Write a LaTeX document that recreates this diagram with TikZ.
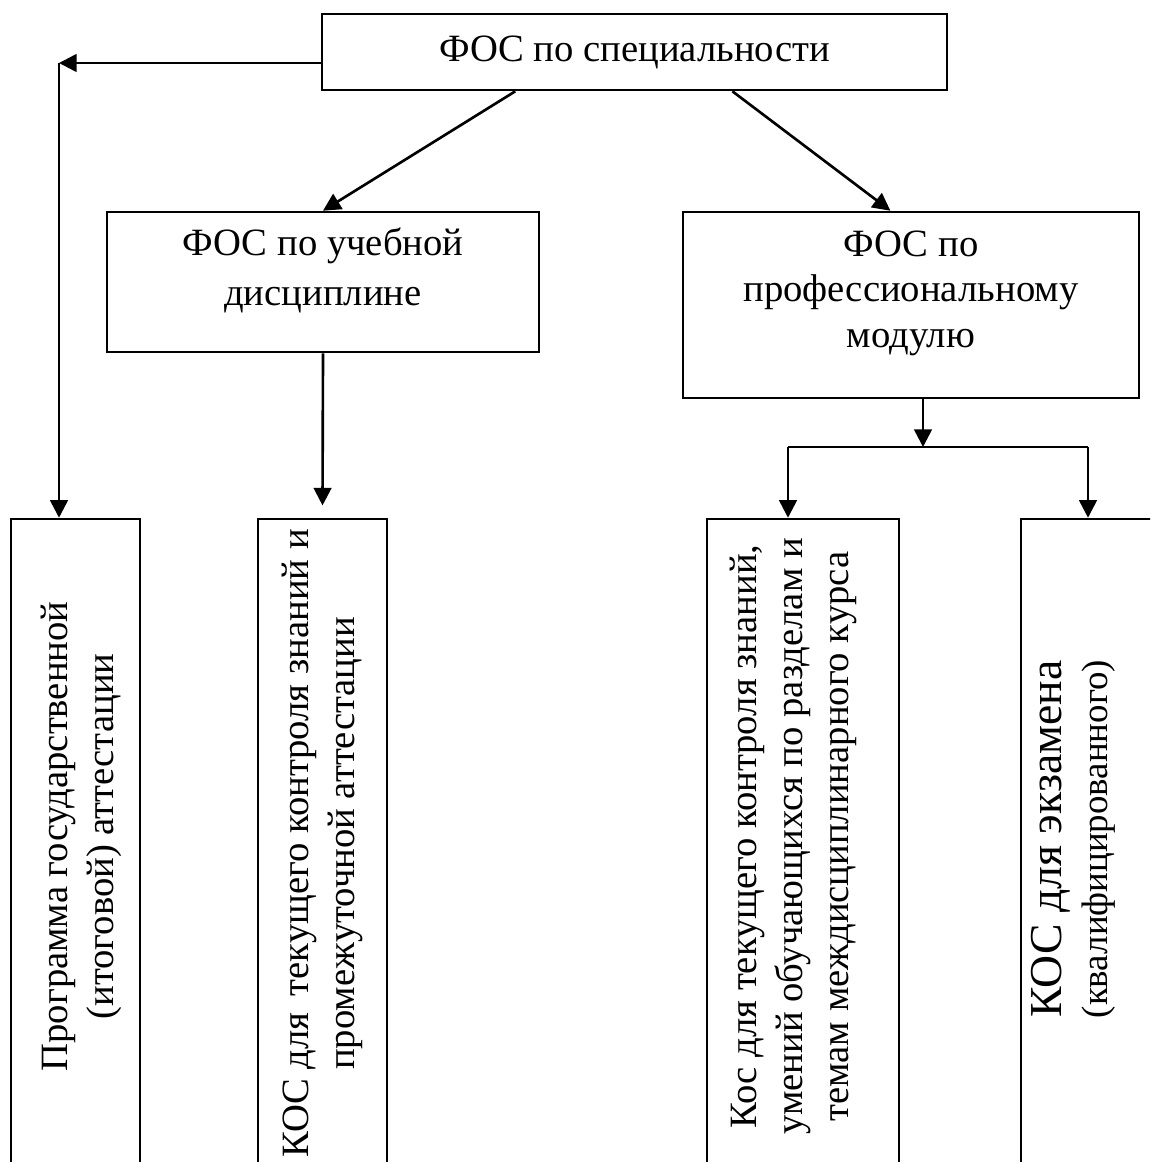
\documentclass[tikz,border=0pt]{standalone}
\usepackage{fontspec}
\setmainfont{Liberation Serif}
\usetikzlibrary{shapes,arrows.meta,positioning,calc}
\tikzset{fosbox/.style={rectangle, draw, fill=white, line width=1.5pt, inner sep=0pt}}
\tikzset{kosbox/.style={rectangle, draw, fill=white, line width=1.5pt, inner sep=0pt, minimum height=13.12cm}}
\tikzset{link/.style={draw, line width=1.5pt}}
\tikzset{line/.style={link, -{Triangle[length=10pt,width=10pt]}}}
% #1 = extra room below the text, #2 = extra room beside it
\newcommand{\htext}[2]{\raisebox{0pt}[\height][\dimexpr\depth+#1\relax]{\begin{tabular}{@{}c@{}}#2\end{tabular}}}
\newcommand{\vtext}[3]{\rotatebox{90}{\hspace*{#1}\htext{#2}{#3}}}

\begin{document}
\begin{tikzpicture}[x=0.02cm, y=-0.02cm, font=\fontsize{22}{26}\selectfont]
        \useasboundingbox (0,0) rectangle (1150,1162);
        \clip (0,0) rectangle (1150,1162);

        \node[fosbox, minimum width=12.5cm, minimum height=1.52cm] (top) at (634.5,52) {ФОС по специальности};
        \node[fosbox, minimum width=8.64cm, minimum height=2.8cm] (disc) at (323,282) {\htext{12pt}{ФОС по учебной\\[2pt]дисциплине}};
        \node[fosbox, minimum width=9.12cm, minimum height=3.72cm] (prof) at (911,305) {\htext{14pt}{ФОС по\\профессиональному\\модулю}};

        \node[kosbox, minimum width=2.58cm] (prog) at (75.5,847) {\vtext{12pt}{-7pt}{Программа государственной\\(итоговой) аттестации}};
        \node[kosbox, minimum width=2.58cm] (kosd) at (322.5,847) {\vtext{4pt}{0pt}{КОС для\ \,текущего контроля знаний и\\промежуточной аттестации}};
        \node[kosbox, minimum width=3.84cm] (kosm) at (803,847) {\vtext{12pt}{11pt}{Кос для текущего контроля знаний,\\умений обучающихся по разделам и\\темам междисциплинарного курса}};
        \node[kosbox, minimum width=2.78cm] (kose) at (1090.5,847) {\vtext{9pt}{17pt}{\fontsize{26}{29}\selectfont КОС для экзамена\\\fontsize{21}{25}\selectfont (квалифицированного)}};

        \coordinate (corner) at (59,63);
        \coordinate (split) at (923,447);
        \coordinate (lft) at (788,447);
        \coordinate (rgt) at (1088,447);

        \path[line] (top.west |- corner) -- (corner);
        \path[line] (corner) -- (corner |- prog.north);
        \path[line] ($(top.south west)!0.31!(top.south east)$) -- (disc.north);
        \path[line] ($(top.south west)!0.656!(top.south east)$) -- ($(prof.north west)!0.455!(prof.north east)$);
        \path[line] (disc.south) -- ([yshift=7pt]kosd.north);
        \path[line] (prof.south -| split) -- (split);
        \path[link] (lft) -- (rgt);
        \path[line] (lft) -- (lft |- kosm.north);
        \path[line] (rgt) -- (rgt |- kose.north);

     \end{tikzpicture}
\end{document}
